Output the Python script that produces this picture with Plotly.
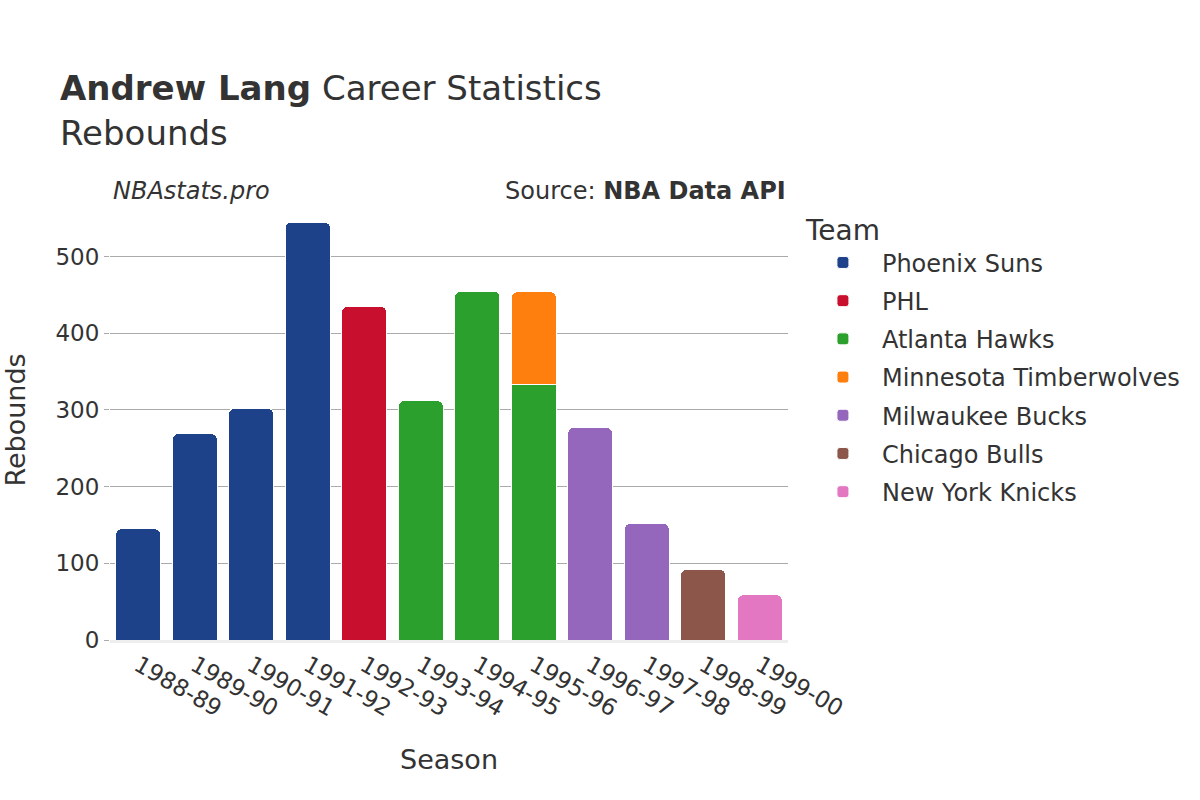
import plotly.graph_objects as go

seasons = ["1988-89", "1989-90", "1990-91", "1991-92", "1992-93", "1993-94",
           "1994-95", "1995-96", "1996-97", "1997-98", "1998-99", "1999-00"]

teams = ["Phoenix Suns", "PHL", "Atlanta Hawks", "Minnesota Timberwolves",
         "Milwaukee Bucks", "Chicago Bulls", "New York Knicks"]
team_colors = ["#1d428a", "#c8102e", "#2ca02c", "#ff7f0e", "#9467bd", "#8c564b", "#e377c2"]

phoenix_seasons = ["1988-89", "1989-90", "1990-91", "1991-92"]
phoenix_reb = [145, 269, 302, 545]
phl_seasons = ["1992-93"]
phl_reb = [435]
atlanta_seasons = ["1993-94", "1994-95", "1995-96"]
atlanta_reb = [312, 455, 333]
minnesota_seasons = ["1995-96"]
minnesota_reb = [121]
milwaukee_seasons = ["1996-97", "1997-98"]
milwaukee_reb = [277, 152]
chicago_seasons = ["1998-99"]
chicago_reb = [92]
knicks_seasons = ["1999-00"]
knicks_reb = [59]

series = [
    (phoenix_seasons, phoenix_reb),
    (phl_seasons, phl_reb),
    (atlanta_seasons, atlanta_reb),
    (minnesota_seasons, minnesota_reb),
    (milwaukee_seasons, milwaukee_reb),
    (chicago_seasons, chicago_reb),
    (knicks_seasons, knicks_reb),
]

FONT = "DejaVu Sans"
TXT = "#333333"

fig = go.Figure()
for name, color, (xs, ys) in zip(teams, team_colors, series):
    fig.add_trace(go.Bar(
        x=xs, y=ys, name=name, legendgroup=name,
        marker=dict(color=color, line=dict(color="white", width=1)),
    ))

fig.update_layout(
    width=1200, height=800,
    barmode="stack",
    bargap=0.2,
    barcornerradius=6,
    plot_bgcolor="white",
    paper_bgcolor="white",
    font=dict(family=FONT, color=TXT, size=23),
    margin=dict(l=108, r=412, t=200, b=160),
    title=dict(
        text="<b>Andrew Lang</b> Career Statistics<br>Rebounds",
        x=0.05, xanchor="left",
        y=0.8625 + 0.012, yanchor="middle",
        font=dict(family=FONT, size=34, color=TXT),
    ),
    legend=dict(
        title=dict(text="Team", font=dict(size=28, color=TXT)),
        font=dict(size=24, color=TXT),
        x=1.0235, xanchor="left",
        y=0.991, yanchor="top",
        traceorder="grouped",
        tracegroupgap=4,
        itemwidth=68,
    ),
    xaxis=dict(
        categoryorder="array", categoryarray=seasons,
        tickangle=30,
        tickfont=dict(size=23, color=TXT),
        title=dict(text="Season", font=dict(size=27, color=TXT), standoff=30),
        showline=True, linecolor="#eeeeee", linewidth=3,
        showgrid=False,
    ),
    yaxis=dict(
        dtick=100,
        tickfont=dict(size=23, color=TXT),
        title=dict(text="Rebounds", font=dict(size=27, color=TXT), standoff=25),
        showgrid=True, gridcolor="#aaaaaa", gridwidth=1,
        zeroline=False,
        ticks="outside", ticklen=5, tickcolor="#aaaaaa",
    ),
    annotations=[
        dict(text="<i>NBAstats.pro</i>", xref="paper", yref="paper",
             x=0.001, y=1.02, xanchor="left", yanchor="middle",
             showarrow=False, font=dict(size=24, color=TXT)),
        dict(text="Source: <b>NBA Data API</b>", xref="paper", yref="paper",
             x=1.0, y=1.02, xanchor="right", yanchor="middle",
             showarrow=False, font=dict(size=24, color=TXT)),
    ],
)

fig.write_html("out.html", config={"displayModeBar": False},
               post_script="document.body.style.margin='0';")
